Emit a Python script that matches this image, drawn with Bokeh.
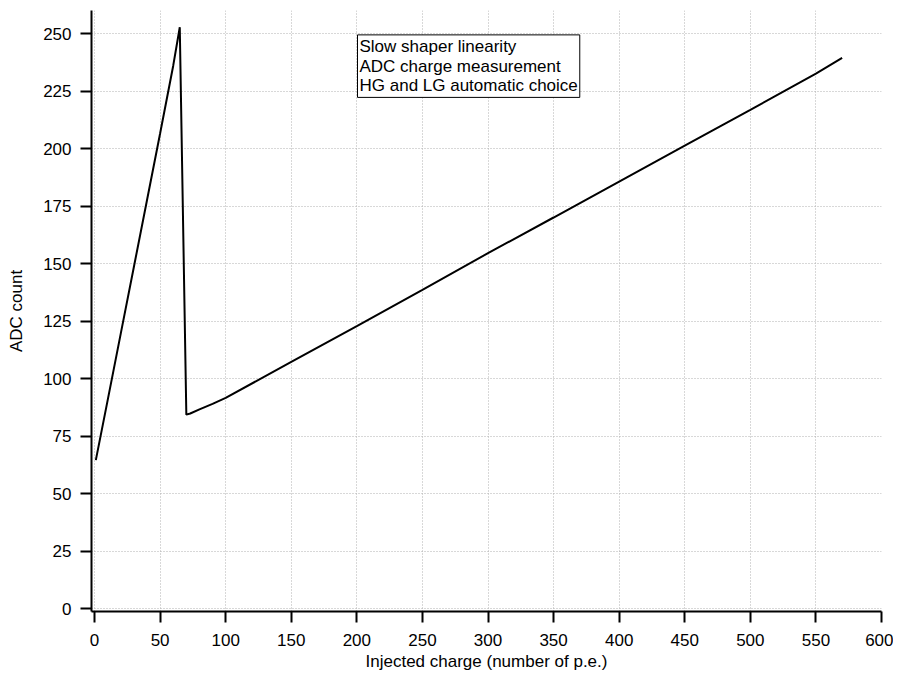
from bokeh.plotting import figure
from bokeh.models import Range1d, Label, FixedTicker
from bokeh.embed import file_html
from bokeh.resources import INLINE

# Data
charge = [1, 10, 20, 30, 40, 50, 60, 65, 70, 73, 80, 90, 100, 150, 200, 250, 300,
          350, 400, 450, 500, 550, 570]
adc = [64.5, 90.5, 119.5, 148.5, 177.5, 206.5, 236.0, 252.7, 84.3, 84.8, 86.6, 89.0,
       91.6, 107.2, 122.8, 138.5, 154.5, 170.0, 185.6, 201.2, 216.8, 232.6, 239.4]

x_ticks = [0, 50, 100, 150, 200, 250, 300, 350, 400, 450, 500, 550, 600]
y_ticks = [0, 25, 50, 75, 100, 125, 150, 175, 200, 225, 250]

annotation = "Slow shaper linearity\nADC charge measurement\nHG and LG automatic choice"

FONT = "Liberation Sans"

p = figure(width=893, height=675, output_backend="svg", toolbar_location=None,
           x_range=Range1d(-2.3, 600), y_range=Range1d(-1.3, 260),
           min_border_left=91, min_border_right=12, min_border_top=10,
           min_border_bottom=64)
p.outline_line_color = None
p.background_fill_color = "white"

p.line(charge, adc, line_color="black", line_width=2)

for ax in (p.xaxis[0], p.yaxis[0]):
    ax.axis_line_width = 2
    ax.axis_line_color = "black"
    ax.major_tick_line_width = 2
    ax.major_tick_line_color = "black"
    ax.major_tick_out = 11
    ax.major_tick_in = 0
    ax.minor_tick_line_color = None
    ax.major_label_text_font = FONT
    ax.major_label_text_font_size = "17px"
    ax.major_label_text_color = "black"
    ax.axis_label_text_font = FONT
    ax.axis_label_text_font_size = "17px"
    ax.axis_label_text_font_style = "normal"
    ax.axis_label_text_color = "black"

p.xaxis[0].ticker = FixedTicker(ticks=x_ticks)
p.yaxis[0].ticker = FixedTicker(ticks=y_ticks)
p.xaxis[0].axis_label = "Injected charge (number of p.e.)"
p.yaxis[0].axis_label = "ADC count"
p.xaxis[0].major_label_standoff = 11
p.xaxis[0].axis_label_standoff = 3
p.yaxis[0].major_label_standoff = 9
p.yaxis[0].axis_label_standoff = 14

for g in (p.xgrid[0], p.ygrid[0]):
    g.grid_line_color = "#b0b0b0"
    g.grid_line_dash = "1 2"
    g.grid_line_width = 1
p.xgrid[0].ticker = FixedTicker(ticks=x_ticks)
p.ygrid[0].ticker = FixedTicker(ticks=y_ticks)

lab = Label(x=200.5, y=249.4, text=annotation, anchor="top_left",
            text_font=FONT, text_font_size="17px", text_color="black",
            text_line_height=1.04,
            border_line_color="black", border_line_width=1,
            background_fill_color="white", padding=2)
p.add_layout(lab)

open("out.html", "w").write(file_html(p, INLINE))
